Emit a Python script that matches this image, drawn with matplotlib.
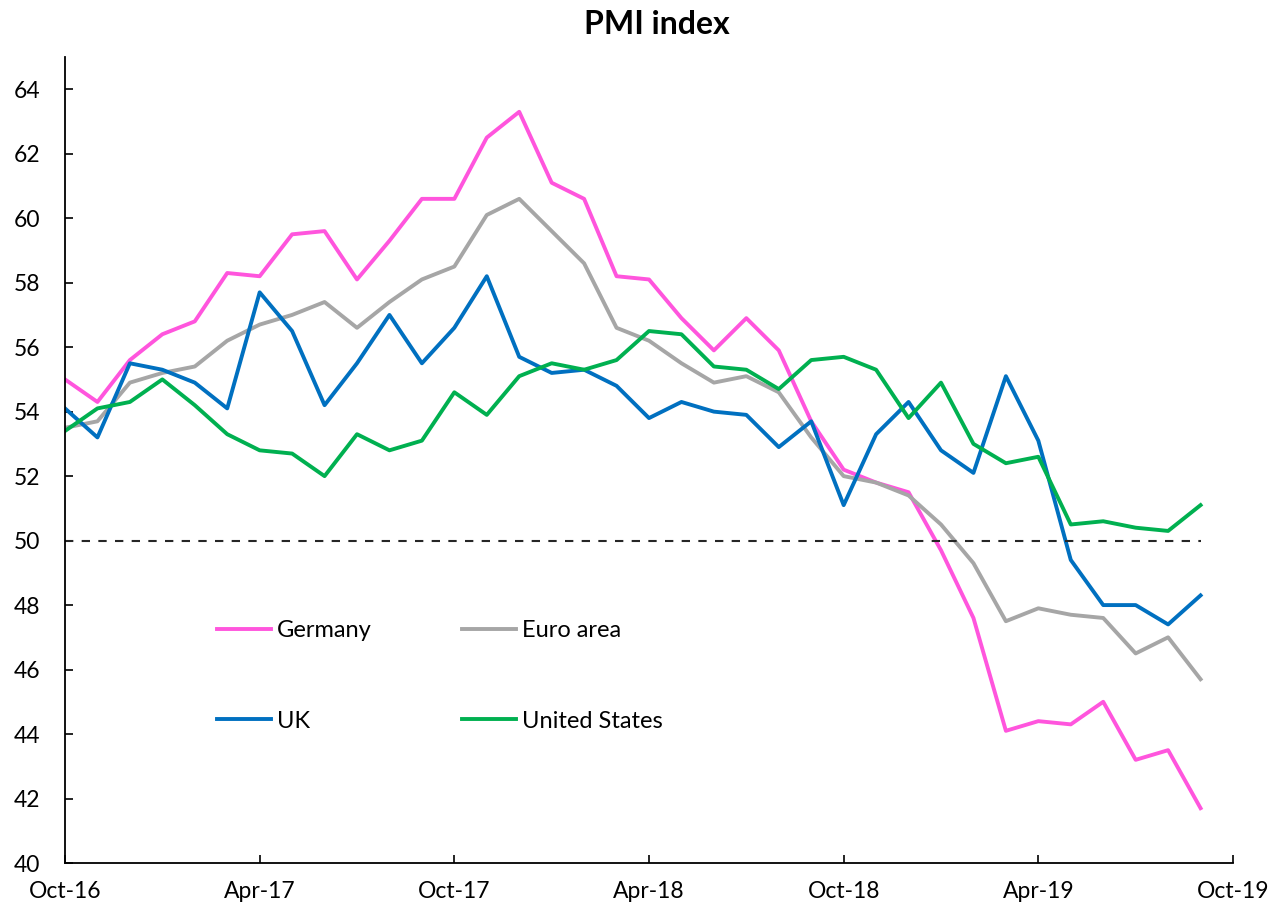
import matplotlib
matplotlib.use("Agg")
import matplotlib.pyplot as plt

plt.rcParams['font.family'] = ['Lato', 'DejaVu Sans']

months = list(range(36))  # Oct-16 .. Sep-19
tick_pos = [0, 6, 12, 18, 24, 30, 36]
tick_labels = ["Oct-16", "Apr-17", "Oct-17", "Apr-18", "Oct-18", "Apr-19", "Oct-19"]

germany = [55.0, 54.3, 55.6, 56.4, 56.8, 58.3, 58.2, 59.5, 59.6, 58.1, 59.3, 60.6,
           60.6, 62.5, 63.3, 61.1, 60.6, 58.2, 58.1, 56.9, 55.9, 56.9, 55.9, 53.7,
           52.2, 51.8, 51.5, 49.7, 47.6, 44.1, 44.4, 44.3, 45.0, 43.2, 43.5, 41.7]
euro_area = [53.5, 53.7, 54.9, 55.2, 55.4, 56.2, 56.7, 57.0, 57.4, 56.6, 57.4, 58.1,
             58.5, 60.1, 60.6, 59.6, 58.6, 56.6, 56.2, 55.5, 54.9, 55.1, 54.6, 53.2,
             52.0, 51.8, 51.4, 50.5, 49.3, 47.5, 47.9, 47.7, 47.6, 46.5, 47.0, 45.7]
uk = [54.1, 53.2, 55.5, 55.3, 54.9, 54.1, 57.7, 56.5, 54.2, 55.5, 57.0, 55.5,
      56.6, 58.2, 55.7, 55.2, 55.3, 54.8, 53.8, 54.3, 54.0, 53.9, 52.9, 53.7,
      51.1, 53.3, 54.3, 52.8, 52.1, 55.1, 53.1, 49.4, 48.0, 48.0, 47.4, 48.3]
united_states = [53.4, 54.1, 54.3, 55.0, 54.2, 53.3, 52.8, 52.7, 52.0, 53.3, 52.8, 53.1,
                 54.6, 53.9, 55.1, 55.5, 55.3, 55.6, 56.5, 56.4, 55.4, 55.3, 54.7, 55.6,
                 55.7, 55.3, 53.8, 54.9, 53.0, 52.4, 52.6, 50.5, 50.6, 50.4, 50.3, 51.1]
threshold = [50.0] * len(months)

fig = plt.figure(figsize=(12.74, 9.13), dpi=100)
ax = fig.add_axes([65/1274, 1-863/913, (1233-65)/1274, (863-57)/913])

lw = 2.8
l_de, = ax.plot(months, germany, color="#FF55DD", lw=lw, label="Germany")
l_ea, = ax.plot(months, euro_area, color="#A6A6A6", lw=lw, label="Euro area")
l_uk, = ax.plot(months, uk, color="#0070C0", lw=lw, label="UK")
l_us, = ax.plot(months, united_states, color="#00B050", lw=lw, label="United States")
ax.plot(months, threshold, color="#262626", lw=1.5, dashes=(4, 4))

ax.set_xlim(0, 36)
ax.set_ylim(40, 65)
ax.set_yticks(range(40, 65, 2))
ax.set_xticks(tick_pos)
ax.set_xticklabels(tick_labels)

for s in ["top", "right"]:
    ax.spines[s].set_visible(False)
for s in ["left", "bottom"]:
    ax.spines[s].set_linewidth(1.3)
    ax.spines[s].set_color("black")

ax.tick_params(axis="y", direction="in", length=6, width=1.2, labelsize=16.5, pad=18)
ax.tick_params(axis="x", direction="in", length=6, width=1.2, labelsize=16.5, pad=13)

fig.text(657/1274, 1-24/913, "PMI index", ha="center", va="center",
         fontsize=23, fontweight="bold")

leg = ax.legend(handles=[l_de, l_uk, l_ea, l_us], ncol=2, frameon=False,
                fontsize=17, handlelength=2.3, handletextpad=0.25,
                columnspacing=3.8, labelspacing=2.95, borderpad=0, borderaxespad=0,
                loc="upper left", bbox_to_anchor=(217/1274, 1-620/913),
                bbox_transform=fig.transFigure)

fig.savefig("out.png", dpi=100)
